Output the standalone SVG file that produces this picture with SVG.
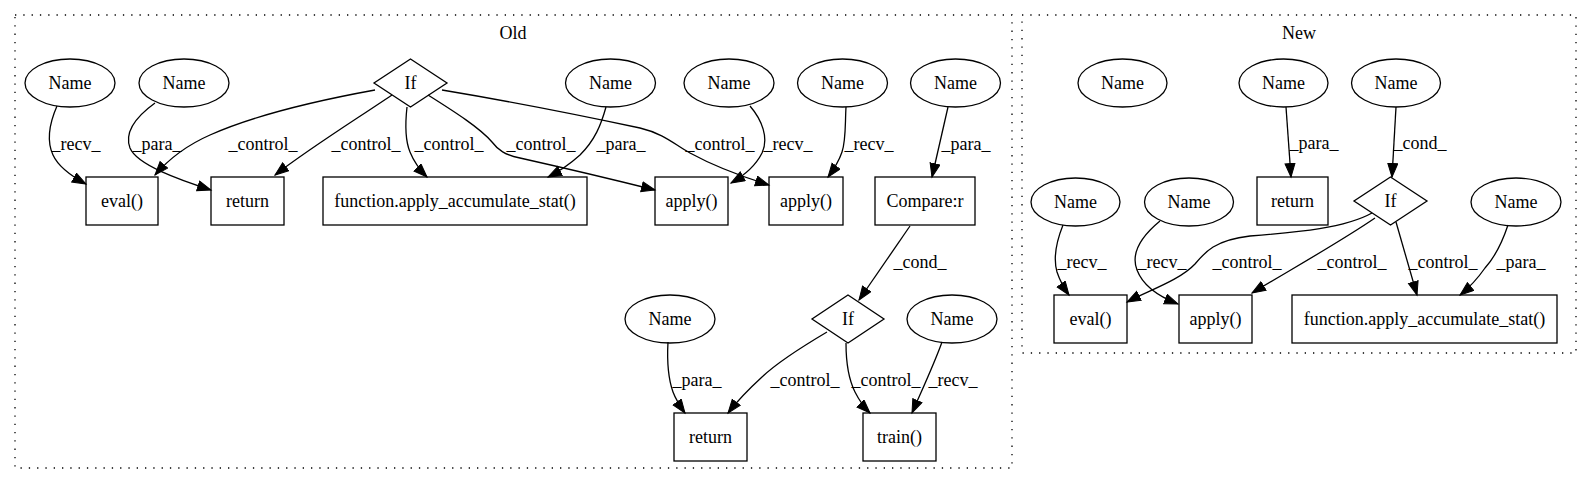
<svg xmlns="http://www.w3.org/2000/svg" width="1592" height="488" viewBox="0 0 1592 488">
<style>
text{font-family:'Liberation Serif','DejaVu Serif','Times New Roman',serif;font-size:18px;fill:#000;text-anchor:middle}
.n ellipse,.n rect,.n polygon{fill:none;stroke:#000;stroke-width:1.3}
.cl{fill:none;stroke:#000;stroke-width:1.3;stroke-dasharray:1.3,7}
.e path{fill:none;stroke:#000;stroke-width:1.3;marker-end:url(#arr)}
</style>
<defs>
<marker id="arr" markerUnits="userSpaceOnUse" markerWidth="16" markerHeight="12" refX="14" refY="5.5" orient="auto">
<path d="M0.5,0.5 L14,5.5 L0.5,10.5 Z" fill="#000" stroke="#000" stroke-width="1"/>
</marker>
</defs>
<rect width="1592" height="488" fill="#fff"/>
<g font-family="Liberation Serif, DejaVu Serif, serif">
<g id="cluster_old">
<rect class="cl" x="15" y="15" width="997" height="453"/>
<text x="513" y="39">Old</text>
</g>
<g id="cluster_new">
<rect class="cl" x="1022" y="15" width="554" height="338"/>
<text x="1299" y="39">New</text>
</g>
<g id="edges" class="e">
<path d="M57,106 C50,122 46,140 53,155 C58,166 73,177 86,184"/>
<path d="M155,103 C137,116 124,132 130,148 C137,165 180,180 211,190"/>
<path d="M375,90 C320,100 255,115 210,135 C185,146 168,160 155,175"/>
<path d="M392,95 C355,120 310,148 275,175"/>
<path d="M407,107 C405,125 405,140 410,152 C414,162 420,170 427,177"/>
<path d="M428,95 C455,112 480,128 492,142 C498,150 505,155 520,158 C560,167 615,180 655,190"/>
<path d="M442,90 C490,98 565,112 640,128 C665,134 675,145 690,153 C712,165 740,176 769,185"/>
<path d="M606,107 C601,125 595,140 580,155 C570,164 560,171 548,177"/>
<path d="M750,106 C762,120 769,138 762,153 C756,165 745,175 731,183"/>
<path d="M846,107 C845,125 846,140 842,152 C839,161 834,169 828,177"/>
<path d="M948,107 L932,177"/>
<path d="M910,226 L859,300"/>
<path d="M668,342 C667,360 668,378 673,392 C676,400 680,406 685,413"/>
<path d="M827,332 C805,345 780,360 762,377 C750,388 738,400 728,413"/>
<path d="M846,343 C846,360 848,378 855,392 C859,400 864,407 870,413"/>
<path d="M942,342 C935,362 922,390 912,413"/>
<path d="M1286,107 L1291,177"/>
<path d="M1396,107 L1392,177"/>
<path d="M1063,225 C1057,240 1053,258 1057,272 C1060,281 1064,288 1069,295"/>
<path d="M1160,221 C1143,235 1130,252 1137,270 C1143,286 1160,297 1178,304"/>
<path d="M1372,213 C1345,228 1300,232 1250,236 C1215,240 1205,252 1195,264 C1180,280 1150,290 1127,302"/>
<path d="M1375,218 C1340,242 1290,270 1252,293"/>
<path d="M1396,222 L1417,295"/>
<path d="M1508,225 C1503,240 1495,257 1485,268 C1478,278 1470,287 1460,295"/>
<text x="76" y="150">_recv_</text>
<text x="157" y="150">_para_</text>
<text x="263" y="150">_control_</text>
<text x="366" y="150">_control_</text>
<text x="449" y="150">_control_</text>
<text x="541" y="150">_control_</text>
<text x="621" y="150">_para_</text>
<text x="720" y="150">_control_</text>
<text x="788" y="150">_recv_</text>
<text x="869" y="150">_recv_</text>
<text x="966" y="150">_para_</text>
<text x="920" y="268">_cond_</text>
<text x="697" y="386">_para_</text>
<text x="805" y="386">_control_</text>
<text x="886" y="386">_control_</text>
<text x="953" y="386">_recv_</text>
<text x="1314" y="149">_para_</text>
<text x="1420" y="149">_cond_</text>
<text x="1082" y="268">_recv_</text>
<text x="1162" y="268">_recv_</text>
<text x="1247" y="268">_control_</text>
<text x="1352" y="268">_control_</text>
<text x="1443" y="268">_control_</text>
<text x="1521" y="268">_para_</text>
</g>
<g id="old_name1" class="n"><ellipse cx="70" cy="83" rx="45" ry="24"/><text x="70" y="89">Name</text></g>
<g id="old_name2" class="n"><ellipse cx="184" cy="83" rx="45" ry="24"/><text x="184" y="89">Name</text></g>
<g id="old_if1" class="n"><polygon points="410.5,59 447,83 410.5,107 374,83"/><text x="410.5" y="89">If</text></g>
<g id="old_name3" class="n"><ellipse cx="610.5" cy="83" rx="45" ry="24"/><text x="610.5" y="89">Name</text></g>
<g id="old_name4" class="n"><ellipse cx="729" cy="83" rx="45" ry="24"/><text x="729" y="89">Name</text></g>
<g id="old_name5" class="n"><ellipse cx="842.5" cy="83" rx="45" ry="24"/><text x="842.5" y="89">Name</text></g>
<g id="old_name6" class="n"><ellipse cx="955.5" cy="83" rx="45" ry="24"/><text x="955.5" y="89">Name</text></g>
<g id="old_eval" class="n"><rect x="86" y="177" width="72" height="48"/><text x="122" y="207">eval()</text></g>
<g id="old_return1" class="n"><rect x="211" y="177" width="73" height="48"/><text x="247.5" y="207">return</text></g>
<g id="old_func" class="n"><rect x="323" y="177" width="264" height="48"/><text x="455" y="207">function.apply_accumulate_stat()</text></g>
<g id="old_apply1" class="n"><rect x="655" y="177" width="73" height="48"/><text x="691.5" y="207">apply()</text></g>
<g id="old_apply2" class="n"><rect x="769" y="177" width="74" height="48"/><text x="806" y="207">apply()</text></g>
<g id="old_compare" class="n"><rect x="875" y="177" width="100" height="48"/><text x="925" y="207">Compare:r</text></g>
<g id="old_name7" class="n"><ellipse cx="670" cy="319" rx="45" ry="24"/><text x="670" y="325">Name</text></g>
<g id="old_if2" class="n"><polygon points="848,295 884,319 848,343 812,319"/><text x="848" y="325">If</text></g>
<g id="old_name8" class="n"><ellipse cx="952" cy="319" rx="45" ry="24"/><text x="952" y="325">Name</text></g>
<g id="old_return2" class="n"><rect x="674" y="413" width="73" height="48"/><text x="710.5" y="443">return</text></g>
<g id="old_train" class="n"><rect x="863" y="413" width="73" height="48"/><text x="899.5" y="443">train()</text></g>
<g id="new_name_free" class="n"><ellipse cx="1122.5" cy="83" rx="44.5" ry="24"/><text x="1122.5" y="89">Name</text></g>
<g id="new_name_para" class="n"><ellipse cx="1283.5" cy="83" rx="44.5" ry="24"/><text x="1283.5" y="89">Name</text></g>
<g id="new_name_cond" class="n"><ellipse cx="1396" cy="83" rx="44.5" ry="24"/><text x="1396" y="89">Name</text></g>
<g id="new_return" class="n"><rect x="1257" y="177" width="71" height="48"/><text x="1292.5" y="207">return</text></g>
<g id="new_if" class="n"><polygon points="1390.5,177 1427,201 1390.5,225 1354,201"/><text x="1390.5" y="207">If</text></g>
<g id="new_name_eval" class="n"><ellipse cx="1075.5" cy="202" rx="44.5" ry="24"/><text x="1075.5" y="208">Name</text></g>
<g id="new_name_apply" class="n"><ellipse cx="1189" cy="202" rx="44.5" ry="24"/><text x="1189" y="208">Name</text></g>
<g id="new_name_func" class="n"><ellipse cx="1516" cy="202" rx="45" ry="24"/><text x="1516" y="208">Name</text></g>
<g id="new_eval" class="n"><rect x="1054" y="295" width="73" height="48"/><text x="1090.5" y="325">eval()</text></g>
<g id="new_apply" class="n"><rect x="1179" y="295" width="73" height="48"/><text x="1215.5" y="325">apply()</text></g>
<g id="new_func" class="n"><rect x="1292" y="295" width="265" height="48"/><text x="1424.5" y="325">function.apply_accumulate_stat()</text></g>
</g>
</svg>
